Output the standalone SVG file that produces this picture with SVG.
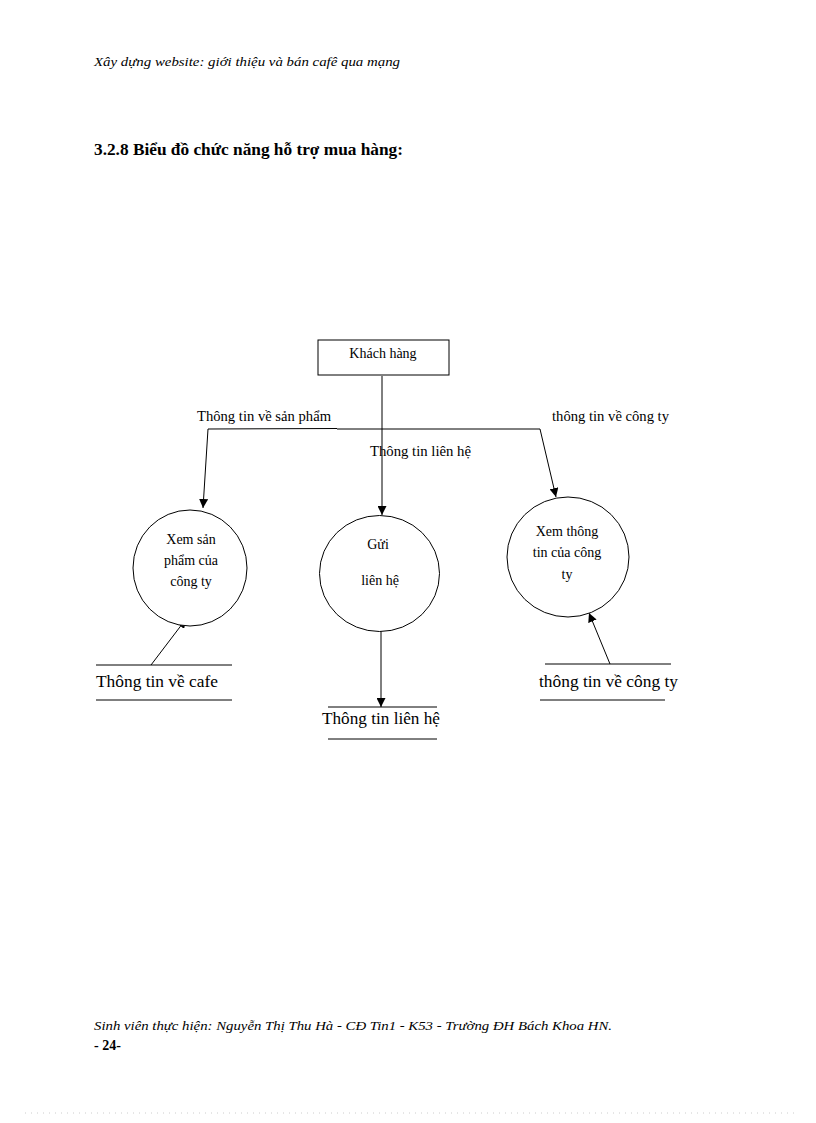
<svg xmlns="http://www.w3.org/2000/svg" width="816" height="1123" viewBox="0 0 816 1123">
<style>
text{font-family:"Liberation Serif","Times New Roman",serif;fill:#000}
.hdr{font-size:13.5px;font-style:italic}
.ttl{font-size:16.5px;font-weight:bold}
.lbl{font-size:14px}
.ds{font-size:16.5px}
.ln{stroke:#000;stroke-width:1;fill:none}
.shape{stroke:#000;stroke-width:1;fill:#fff}
</style>
<defs>
<marker id="arr" viewBox="0 0 10 10" refX="10" refY="5" markerWidth="9" markerHeight="9" orient="auto" markerUnits="userSpaceOnUse">
<path d="M0,0 L10,5 L0,10 z" fill="#000"/>
</marker>
</defs>
<rect width="816" height="1123" fill="#fff"/>
<text class="hdr" x="94" y="66" textLength="306" lengthAdjust="spacingAndGlyphs">Xây dựng website: giới thiệu và bán cafê qua mạng</text>
<text class="ttl" x="94" y="155" textLength="309" lengthAdjust="spacingAndGlyphs">3.2.8 Biểu đồ chức năng hỗ trợ mua  hàng:</text>

<g id="connectors">
<line class="ln" x1="382" y1="376" x2="382" y2="515" marker-end="url(#arr)"/>
<polyline class="ln" points="337,428.5 208,429 203,508" marker-end="url(#arr)"/>
<polyline class="ln" points="337,429 540,429 556,497" marker-end="url(#arr)"/>
<line class="ln" x1="151" y1="665" x2="186" y2="619" marker-end="url(#arr)"/>
<line class="ln" x1="381" y1="624" x2="381" y2="707" marker-end="url(#arr)"/>
<line class="ln" x1="610" y1="664" x2="589" y2="613" marker-end="url(#arr)"/>
<text class="lbl" x="197" y="421" textLength="134" lengthAdjust="spacingAndGlyphs">Thông tin  về sản phẩm</text>
<text class="lbl" x="370" y="456" textLength="101" lengthAdjust="spacingAndGlyphs">Thông tin liên  hệ</text>
<text class="lbl" x="552" y="421" textLength="117" lengthAdjust="spacingAndGlyphs">thông tin về công ty</text>
</g>

<g id="khach-hang">
<rect class="shape" x="318" y="340" width="131" height="35"/>
<text class="lbl" x="383" y="358" text-anchor="middle">Khách hàng</text>
</g>

<g id="xem-san-pham">
<ellipse class="shape" cx="190" cy="568" rx="57" ry="58"/>
<text class="lbl" text-anchor="middle"><tspan x="191" y="544">Xem sản</tspan><tspan x="191" y="565">phẩm của</tspan><tspan x="191" y="586">công ty</tspan></text>
</g>

<g id="gui-lien-he">
<ellipse class="shape" cx="379.5" cy="573.5" rx="60" ry="58"/>
<text class="lbl" text-anchor="middle"><tspan x="378" y="549">Gửi</tspan><tspan x="380" y="585">liên hệ</tspan></text>
</g>

<g id="xem-thong-tin">
<ellipse class="shape" cx="568" cy="557" rx="61" ry="60"/>
<text class="lbl" text-anchor="middle"><tspan x="567" y="536">Xem thông</tspan><tspan x="567" y="557">tin  của công</tspan><tspan x="567" y="579">ty</tspan></text>
</g>

<g id="ds-cafe">
<line class="ln" x1="96" y1="665" x2="232" y2="665"/>
<line class="ln" x1="96" y1="700" x2="232" y2="700"/>
<text class="ds" x="96" y="687" textLength="122" lengthAdjust="spacingAndGlyphs">Thông  tin về  cafe</text>
</g>

<g id="ds-lien-he">
<line class="ln" x1="328" y1="707" x2="437" y2="707"/>
<line class="ln" x1="328" y1="739" x2="437" y2="739"/>
<text class="ds" x="322" y="724" textLength="118" lengthAdjust="spacingAndGlyphs">Thông  tin liên hệ</text>
</g>

<g id="ds-cong-ty">
<line class="ln" x1="545" y1="664" x2="671" y2="664"/>
<line class="ln" x1="540" y1="700" x2="665" y2="700"/>
<text class="ds" x="539" y="687" textLength="139" lengthAdjust="spacingAndGlyphs">thông tin về công ty</text>
</g>

<text class="hdr" x="94" y="1030" textLength="518" lengthAdjust="spacingAndGlyphs">Sinh viên thực hiện: Nguyễn Thị Thu Hà - CĐ Tin1 - K53 - Trường ĐH Bách Khoa HN.</text>
<text class="lbl" x="94" y="1050" font-weight="bold">- 24-</text>
<line x1="25" y1="1113" x2="795" y2="1113" stroke="#ccc" stroke-width="1" stroke-dasharray="1,5"/>
</svg>
